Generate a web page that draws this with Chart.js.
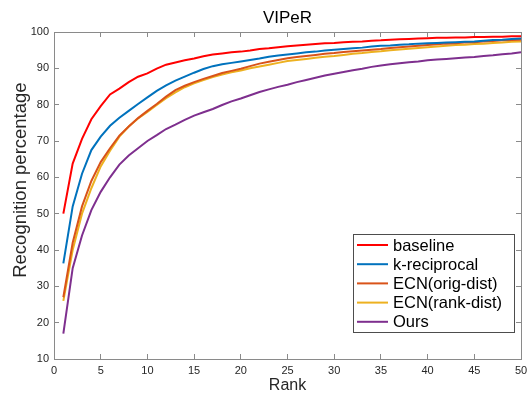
<!DOCTYPE html>
<html>
<head>
<meta charset="utf-8">
<script src="https://cdn.jsdelivr.net/npm/chart.js@4/dist/chart.umd.min.js"></script>
<style>
  html, body { margin: 0; padding: 0; background: #fff; }
  canvas { display: block; }
</style>
</head>
<body>
<canvas id="cmc" width="527" height="394"></canvas>
<script>
const ranks = [
    1, 2, 3, 4, 5, 6, 7, 8, 9, 10, 11, 12, 13, 14, 15, 16, 17, 18, 19, 20, 21, 22, 23, 24, 25,
    26, 27, 28, 29, 30, 31, 32, 33, 34, 35, 36, 37, 38, 39, 40, 41, 42, 43, 44, 45, 46, 47, 48, 49, 50
];

const baseline = [
    50, 63.8, 70.6, 76, 79.6, 82.8, 84.4, 86.2, 87.7, 88.6, 89.9, 91.0, 91.6, 92.2, 92.7, 93.3, 93.8, 94.1, 94.4, 94.6, 94.9, 95.3, 95.5, 95.8, 96.1,
    96.3, 96.5, 96.7, 96.9, 97.0, 97.2, 97.3, 97.4, 97.6, 97.7, 97.9, 98.0, 98.1, 98.2, 98.3, 98.4, 98.4, 98.5, 98.5, 98.6, 98.6, 98.7, 98.7, 98.8, 98.8
];
const kReciprocal = [
    36.3, 52, 61, 67.5, 71.2, 74.2, 76.4, 78.3, 80.2, 82, 83.8, 85.3, 86.6, 87.7, 88.8, 89.8, 90.6, 91.1, 91.5, 91.9, 92.3, 92.7, 93.2, 93.5, 93.8,
    94.1, 94.4, 94.6, 94.9, 95.1, 95.3, 95.5, 95.7, 96.0, 96.2, 96.3, 96.5, 96.6, 96.8, 96.9, 97.0, 97.1, 97.2, 97.3, 97.4, 97.6, 97.8, 97.9, 98.1, 98.2
];
const ecnOrig = [
    27, 42, 52, 59, 64.2, 68, 71.5, 74, 76.3, 78.3, 80.2, 82.2, 84, 85.2, 86.2, 87.1, 87.9, 88.7, 89.3, 89.9, 90.6, 91.3, 91.8, 92.3, 92.8,
    93.1, 93.4, 93.7, 94.0, 94.2, 94.5, 94.7, 94.9, 95.1, 95.3, 95.6, 95.8, 96.0, 96.2, 96.4, 96.6, 96.8, 96.9, 97.1, 97.2, 97.4, 97.5, 97.7, 97.8, 97.9
];
const ecnRank = [
    26, 40, 50, 57, 63, 67.3, 71.2, 74, 76.2, 78, 79.9, 81.8, 83.4, 84.8, 85.9, 86.8, 87.6, 88.3, 88.9, 89.4, 90.0, 90.5, 91.0, 91.5, 92.0,
    92.3, 92.6, 92.9, 93.2, 93.4, 93.7, 94.0, 94.2, 94.5, 94.7, 95.0, 95.2, 95.4, 95.6, 95.8, 96.0, 96.2, 96.4, 96.5, 96.7, 96.8, 97.0, 97.1, 97.3, 97.4
];
const ours = [
    17, 35, 44, 51, 56, 60, 63.5, 66, 68, 70, 71.6, 73.3, 74.5, 75.8, 77, 77.9, 78.8, 79.9, 80.9, 81.7, 82.6, 83.5, 84.2, 84.9, 85.5,
    86.2, 86.8, 87.4, 88.0, 88.5, 89.0, 89.5, 89.9, 90.4, 90.8, 91.1, 91.4, 91.7, 91.9, 92.2, 92.4, 92.6, 92.8, 93.0, 93.1, 93.4, 93.6, 93.9, 94.1, 94.4
];

const seriesNames = ['baseline', 'k-reciprocal', 'ECN(orig-dist)', 'ECN(rank-dist)', 'Ours'];
const seriesValues = [baseline, kReciprocal, ecnOrig, ecnRank, ours];
const seriesColors = ['#FF0000', '#0072BD', '#D95319', '#EDB120', '#7E2F8E'];

const FONT = "'Liberation Sans', Arial, Helvetica, sans-serif";
const AXIS_COLOR = '#8a8a8a';
const TEXT_COLOR = '#262626';

function makeDataset(name, values, color) {
    return {
        label: name,
        data: ranks.map((r, i) => ({ x: r, y: values[i] })),
        borderColor: color,
        backgroundColor: color,
        borderWidth: 2,
        pointRadius: 0,
        tension: 0,
        fill: false
    };
}

// legend drawn inside the plot, MATLAB style (box in the lower right corner)
const boxLegend = {
    id: 'boxLegend',
    afterDatasetsDraw(chart) {
        const ctx = chart.ctx;
        const area = chart.chartArea;
        const w = 161, h = 98;
        const x0 = area.right - 7 - w;
        const y0 = area.bottom - 27 - h;
        ctx.save();
        ctx.fillStyle = '#fff';
        ctx.fillRect(x0, y0, w, h);
        ctx.strokeStyle = '#4d4d4d';
        ctx.lineWidth = 1;
        ctx.strokeRect(x0 + 0.5, y0 + 0.5, w, h);
        ctx.font = '16.5px ' + FONT;
        ctx.textBaseline = 'middle';
        ctx.textAlign = 'left';
        chart.data.datasets.forEach((ds, i) => {
            const cy = y0 + 11 + i * 19.2;
            ctx.strokeStyle = ds.borderColor;
            ctx.lineWidth = 2;
            ctx.beginPath();
            ctx.moveTo(x0 + 4, cy);
            ctx.lineTo(x0 + 35, cy);
            ctx.stroke();
            ctx.fillStyle = '#000';
            ctx.fillText(ds.label, x0 + 40, cy + 1);
        });
        ctx.restore();
    }
};

const tickGrid = {
    drawOnChartArea: false,
    drawTicks: true,
    tickLength: -5,
    color: AXIS_COLOR,
    lineWidth: 1
};
const border = { display: true, color: AXIS_COLOR, width: 1 };

new Chart(document.getElementById('cmc'), {
    type: 'line',
    data: {
        datasets: seriesNames.map((n, i) => makeDataset(n, seriesValues[i], seriesColors[i]))
    },
    options: {
        responsive: false,
        animation: false,
        layout: { padding: 0 },
        plugins: {
            legend: { display: false },
            tooltip: { enabled: false },
            title: {
                display: true,
                fullSize: false,
                text: 'VIPeR',
                color: '#000',
                font: { family: FONT, size: 17, weight: 'normal' },
                padding: { top: 8, bottom: 3.6 }
            }
        },
        scales: {
            x: {
                type: 'linear',
                position: 'bottom',
                min: 0,
                max: 50,
                grid: tickGrid,
                border: border,
                ticks: {
                    stepSize: 5,
                    color: TEXT_COLOR,
                    font: { family: FONT, size: 11 },
                    padding: 10,
                    maxRotation: 0
                },
                title: {
                    display: true,
                    text: 'Rank',
                    color: TEXT_COLOR,
                    font: { family: FONT, size: 16, lineHeight: 1 },
                    padding: { top: 0, bottom: 0 }
                },
                afterFit(scale) {
                    scale.height = 35;
                    scale.paddingLeft = 0;
                    scale.paddingRight = 0;
                }
            },
            xTop: {
                type: 'linear',
                position: 'top',
                min: 0,
                max: 50,
                grid: tickGrid,
                border: border,
                ticks: { stepSize: 5, display: false },
                afterFit(scale) { scale.height = 0; }
            },
            y: {
                type: 'linear',
                position: 'left',
                min: 10,
                max: 100,
                grid: tickGrid,
                border: border,
                ticks: {
                    stepSize: 10,
                    color: TEXT_COLOR,
                    font: { family: FONT, size: 11 },
                    padding: 10
                },
                title: {
                    display: true,
                    text: '      Recognition percentage',
                    color: TEXT_COLOR,
                    font: { family: FONT, size: 18.5 },
                    padding: { top: 10, bottom: 0 }
                },
                afterFit(scale) { scale.width = 54; }
            },
            yRight: {
                type: 'linear',
                position: 'right',
                min: 10,
                max: 100,
                grid: tickGrid,
                border: border,
                ticks: { stepSize: 10, display: false },
                afterFit(scale) { scale.width = 6; }
            }
        }
    },
    plugins: [boxLegend]
});
</script>
</body>
</html>
